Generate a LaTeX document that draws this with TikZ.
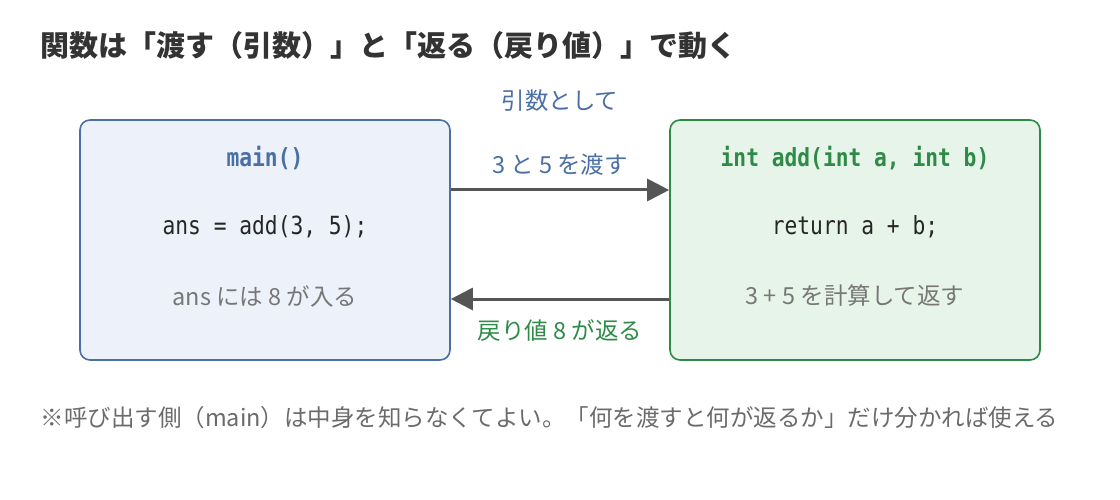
\documentclass[tikz,border=0pt]{standalone}
\usepackage{fontspec}
\setmainfont{Noto Sans CJK JP}
\newfontfamily\codefont[FakeStretch=0.85]{DejaVu Sans Mono}
\usetikzlibrary{arrows.meta}
\definecolor{mainblue}{HTML}{4A6FA5}
\definecolor{addgreen}{HTML}{2E8B47}
\definecolor{mainfill}{HTML}{EDF2FA}
\definecolor{addfill}{HTML}{E7F4E9}
\definecolor{arrowgray}{HTML}{555555}
\definecolor{notegray}{HTML}{777777}
\definecolor{titlegray}{HTML}{333333}
\tikzset{
    funcbox/.style={draw=#1, line width=1.6pt, rounded corners=10pt,
        minimum width=370pt, minimum height=240pt, inner sep=0pt},
    codetext/.style={font=\codefont\fontsize{25}{28}\selectfont, text=black!85},
    headtext/.style={font=\codefont\bfseries\fontsize{25}{28}\selectfont, text=#1},
    notetext/.style={font=\fontsize{23.5}{28}\selectfont, text=notegray},
    flowlabel/.style={font=\fontsize{23.5}{28}\selectfont, text=#1},
    flow/.style={draw=arrowgray, line width=3pt,
        -{Triangle[length=22pt,width=22pt]}}
}

\begin{document}
\begin{tikzpicture}[x=1pt, y=-1pt]
      \useasboundingbox (0,0) rectangle (1120,500);
      % title
      \node[anchor=west, font=\bfseries\fontsize{29}{34}\selectfont, text=titlegray]
        (title) at (37,45) {関数は「渡す（引数）」と「返る（戻り値）」で動く};
      % boxes
      \node[funcbox=mainblue, fill=mainfill] (main) at (265,240) {};
      \node[funcbox=addgreen, fill=addfill] (add) at (855,240) {};
      % box texts
      \node[headtext=mainblue] (mainhead) at (265,158) {main()};
      \node[codetext] (maincall) at (265,227) {ans = add(3, 5);};
      \node[notetext] (mainnote) at (265,296) {ans には 8 が入る};
      \node[headtext=addgreen] (addhead) at (855,158) {int add(int a, int b)};
      \node[codetext] (addret) at (855,227) {return a + b;};
      \node[notetext] (addnote) at (855,296) {3 + 5 を計算して返す};
      % arrow labels
      \node[flowlabel=mainblue] (argone) at (560,101) {引数として};
      \node[flowlabel=mainblue] (argtwo) at (560,165) {3 と 5 を渡す};
      \node[flowlabel=addgreen] (retlabel) at (560,331) {戻り値 8 が返る};
      % arrows
      \draw[flow] ([yshift=50pt]main.east) -- ([yshift=50pt]add.west);
      \draw[flow] ([yshift=-59pt]add.west) -- ([yshift=-59pt]main.east);
      % footnote
      \node[anchor=west, notetext, text=notegray!90!black] (footnote) at (37,418)
        {※呼び出す側（main）は中身を知らなくてよい。「何を渡すと何が返るか」だけ分かれば使える};
\end{tikzpicture}
\end{document}
